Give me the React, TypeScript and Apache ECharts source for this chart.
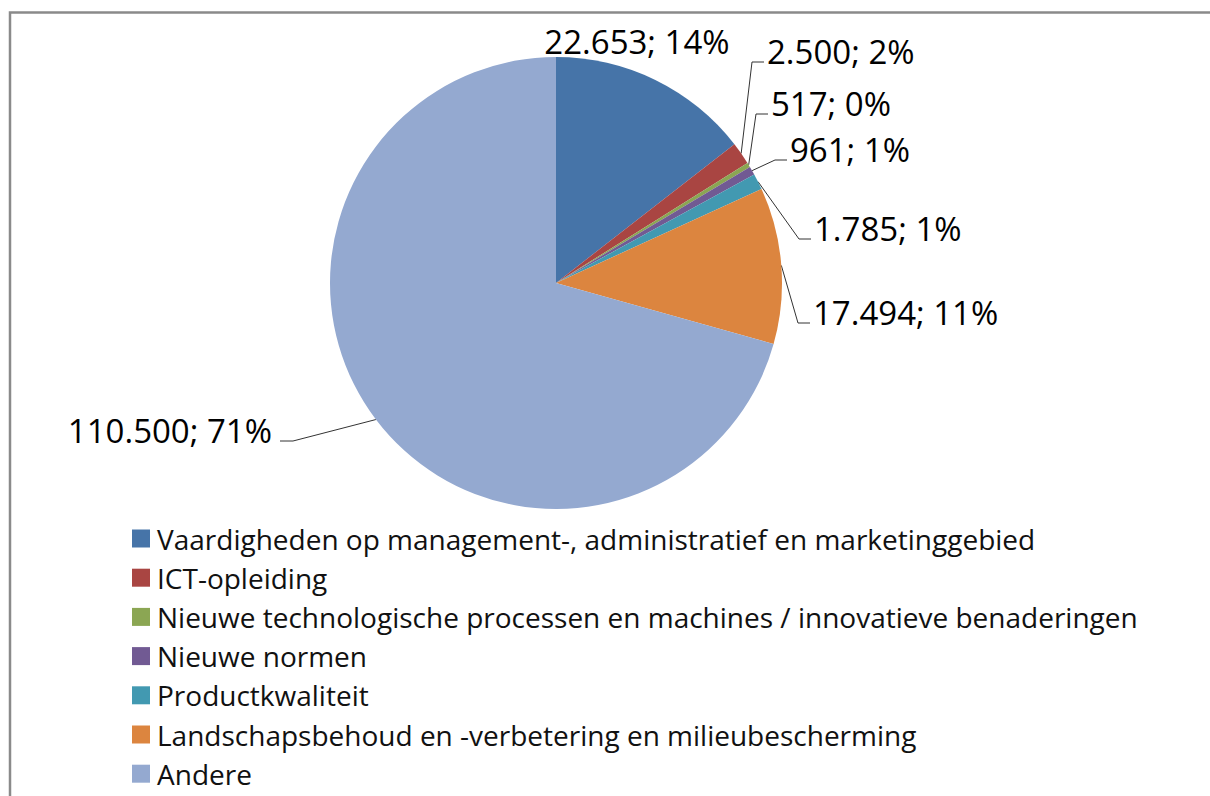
import React, { useEffect, useRef } from "react";
import * as echarts from "echarts";

const categories = [
  "Vaardigheden op management-, administratief en marketinggebied",
  "ICT-opleiding",
  "Nieuwe technologische processen en machines / innovatieve benaderingen",
  "Nieuwe normen",
  "Productkwaliteit",
  "Landschapsbehoud en -verbetering en milieubescherming",
  "Andere",
];
const values = [22653, 2500, 517, 961, 1785, 17494, 110500];
const sliceColors = ["#4674A8", "#A94542", "#8BA653", "#715A93", "#4299B1", "#DC853F", "#94A9D0"];

// label placement (text anchor) per slice, in chart pixels
const labelSpots = [
  { x: 637, y: 41, align: "center", line: false },
  { x: 767, y: 51, align: "left", line: true },
  { x: 771, y: 103, align: "left", line: true },
  { x: 790, y: 149, align: "left", line: true },
  { x: 814, y: 228, align: "left", line: true },
  { x: 813, y: 312, align: "left", line: true },
  { x: 272, y: 430, align: "right", line: true },
];

const fmt = (v: number) => String(v).replace(/\B(?=(\d{3})+(?!\d))/g, ".");

export default function App() {
  const ref = useRef<HTMLDivElement>(null);
  useEffect(() => {
    const chart = echarts.init(ref.current!, null, { renderer: "svg" });
    const total = values.reduce((a, b) => a + b, 0);
    chart.setOption({
      animation: false,
      backgroundColor: "#ffffff",
      color: sliceColors,
      graphic: [
        {
          type: "rect",
          silent: true,
          shape: { x: 10, y: 12.5, width: 1400, height: 1000 },
          style: { fill: "none", stroke: "#8a8a8a", lineWidth: 2.5 },
        },
      ],
      legend: {
        orient: "vertical",
        left: 132,
        top: 524.5,
        padding: 0,
        itemWidth: 18,
        itemHeight: 18,
        itemGap: 11.2,
        icon: "rect",
        data: categories,
        selectedMode: false,
        textStyle: {
          fontFamily: "Open Sans",
          fontSize: 28,
          lineHeight: 28,
          color: "#111",
          padding: [0, 0, 0, 2],
        },
      },
      series: [
        {
          type: "pie",
          center: [556, 283],
          radius: 226,
          startAngle: 90,
          clockwise: true,
          avoidLabelOverlap: false,
          itemStyle: { borderWidth: 0 },
          data: categories.map((name, i) => ({
            name,
            value: values[i],
            labelLine: { show: labelSpots[i].line },
          })),
          label: {
            show: true,
            position: "outside",
            fontFamily: "Open Sans",
            fontSize: 33,
            color: "#000",
            formatter: (p: any) => `${fmt(p.value)}; ${Math.round((p.value / total) * 100)}%`,
          },
          labelLine: {
            show: true,
            length: 10,
            length2: 10,
            lineStyle: { color: "#333", width: 1 },
          },
          labelLayout: (p: any) => {
            const s = labelSpots[p.dataIndex];
            const start = p.labelLinePoints ? p.labelLinePoints[0] : [0, 0];
            const bottom = s.y + 11;
            let pts;
            if (s.align === "right") {
              pts = [start, [s.x + 21, bottom], [s.x + 8, bottom]];
            } else {
              pts = [start, [s.x - 15, bottom], [s.x - 3, bottom]];
            }
            return {
              x: s.x,
              y: s.y,
              align: s.align,
              verticalAlign: "middle",
              labelLinePoints: pts,
            };
          },
        },
      ],
    });
    return () => chart.dispose();
  }, []);
  return (
    <div
      ref={ref}
      style={{ position: "fixed", left: 0, top: 0, width: 1210, height: 796 }}
    />
  );
}
